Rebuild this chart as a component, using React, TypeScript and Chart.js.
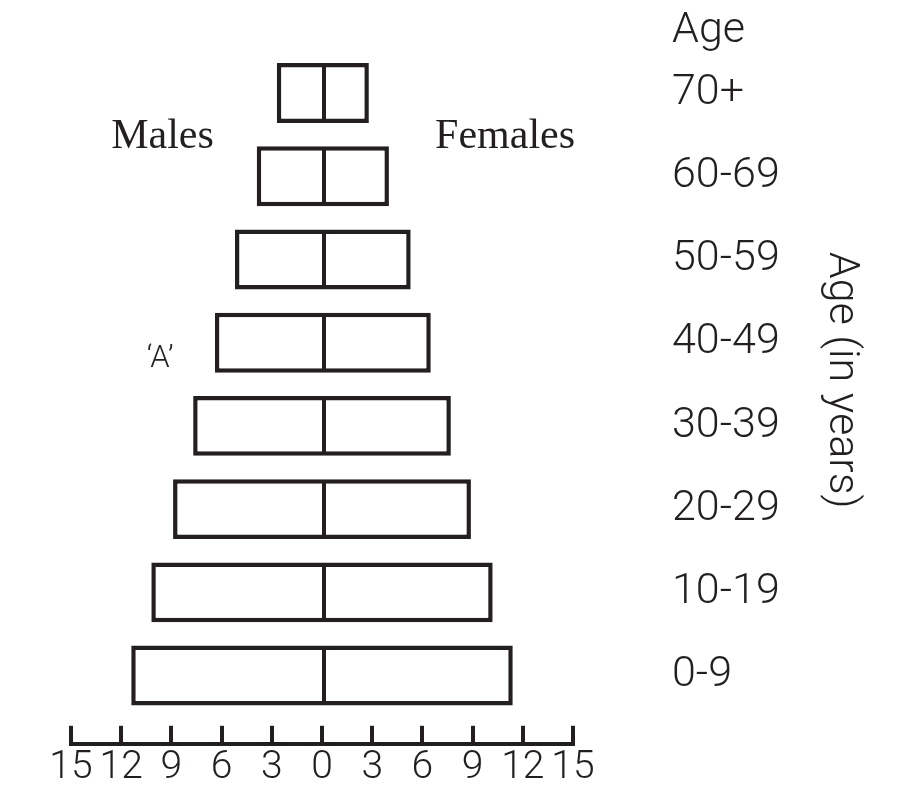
import React, { useEffect, useRef } from 'react';
import { Chart, registerables } from 'chart.js';

Chart.register(...registerables);

// ---- data ----
const ageGroups = ['0-9', '10-19', '20-29', '30-39', '40-49', '50-59', '60-69', '70+'];
const malesPct = [11.4, 10.2, 8.9, 7.7, 6.4, 5.2, 3.9, 2.7];
const femalesPct = [11.4, 10.2, 8.9, 7.7, 6.5, 5.3, 4.0, 2.8];
const xTickValues = [-15, -12, -9, -6, -3, 0, 3, 6, 9, 12, 15];

const INK = '#231f20';
const SANS = 'Roboto, "Open Sans", sans-serif';
const SERIF = '"Liberation Serif", "DejaVu Serif", serif';

type Note = { text: string; x: number; y: number; font: string; align: CanvasTextAlign; baseline: CanvasTextBaseline };
const notes: Note[] = [
  { text: 'Males', x: -9.53, y: 6.34, font: `42px ${SERIF}`, align: 'center', baseline: 'alphabetic' },
  { text: 'Females', x: 10.94, y: 6.34, font: `42px ${SERIF}`, align: 'center', baseline: 'alphabetic' },
  { text: '\u2018A\u2019', x: -9.68, y: 3.8, font: `300 31px ${SANS}`, align: 'center', baseline: 'middle' },
];

const textPlugin = {
  id: 'pyramidText',
  afterDraw(chart: any) {
    const { ctx } = chart;
    const xs = chart.scales.x;
    const ys = chart.scales.y;
    ctx.save();
    ctx.fillStyle = INK;
    for (const n of notes) {
      ctx.font = n.font;
      ctx.textAlign = n.align;
      ctx.textBaseline = n.baseline;
      ctx.fillText(n.text, xs.getPixelForValue(n.x), ys.getPixelForValue(n.y));
    }
    // "Age" header above the age-group labels
    const labelX = ys.left + ys.options.grid.tickLength + ys.options.ticks.padding;
    ctx.font = `300 43px ${SANS}`;
    ctx.textAlign = 'left';
    ctx.textBaseline = 'alphabetic';
    ctx.fillText('Age', labelX, ys.getPixelForValue(7.61));
    // rotated axis title
    ctx.translate(ys.right - 73, ys.getPixelForValue(3.55));
    ctx.rotate(Math.PI / 2);
    ctx.font = `300 43px ${SANS}`;
    ctx.textAlign = 'center';
    ctx.textBaseline = 'alphabetic';
    ctx.fillText('Age (in years)', 0, 0);
    ctx.restore();
  },
};

export default function App() {
  const ref = useRef<HTMLCanvasElement | null>(null);

  useEffect(() => {
    if (!ref.current) return;
    const yFont = { family: SANS, size: 43, weight: '300' as any };
    const xFont = { family: SANS, size: 39, weight: '300' as any };
    const chart = new Chart(ref.current, {
      type: 'bar',
      data: {
        datasets: [
          {
            label: 'Males',
            data: ageGroups.map((_, i) => ({ x: -malesPct[i], y: i })),
            backgroundColor: '#ffffff',
            borderColor: INK,
            borderWidth: { top: 4.5, bottom: 4.5, left: 4.5, right: 0 },
            borderSkipped: false,
            grouped: false,
            categoryPercentage: 1,
            barPercentage: 0.72,
          } as any,
          {
            label: 'Females',
            data: ageGroups.map((_, i) => ({ x: femalesPct[i], y: i })),
            backgroundColor: '#ffffff',
            borderColor: INK,
            borderWidth: { top: 4.5, bottom: 4.5, left: 4, right: 4.5 },
            borderSkipped: false,
            grouped: false,
            categoryPercentage: 1,
            barPercentage: 0.72,
          } as any,
        ],
      },
      options: {
        indexAxis: 'y',
        animation: false,
        responsive: false,
        layout: { padding: { left: 63, top: 43.4, right: 0, bottom: 0 } },
        plugins: { legend: { display: false }, tooltip: { enabled: false } },
        scales: {
          x: {
            type: 'linear',
            min: -15,
            max: 15,
            offset: false,
            afterBuildTicks: (s: any) => {
              s.ticks = xTickValues.map((v) => ({ value: v }));
            },
            afterFit: (s: any) => {
              s.height = 48.2;
            },
            ticks: {
              autoSkip: false,
              maxRotation: 0,
              minRotation: 0,
              padding: 18.6,
              color: INK,
              font: xFont,
              callback: (v: any) => String(Math.abs(Number(v))),
            },
            grid: {
              drawOnChartArea: false,
              drawTicks: true,
              lineWidth: 0,
              tickLength: -18,
              tickWidth: 4,
              tickColor: INK,
            },
            border: { display: true, width: 4, color: INK },
          },
          y: {
            type: 'linear',
            position: 'right',
            offset: false,
            min: -0.82,
            max: 7.5,
            afterBuildTicks: (s: any) => {
              s.ticks = ageGroups.map((_, i) => ({ value: i }));
            },
            afterFit: (s: any) => {
              s.width = 330;
            },
            grid: { display: false, drawTicks: true, tickLength: 94 },
            border: { display: false },
            ticks: {
              autoSkip: false,
              padding: 5,
              color: INK,
              font: yFont,
              callback: (v: any) => ageGroups[Number(v)] ?? '',
            },
          },
        } as any,
      },
      plugins: [textPlugin],
    });
    return () => chart.destroy();
  }, []);

  return (
    <div style={{ width: 895, height: 784 }}>
      <canvas ref={ref} width={895} height={784} style={{ display: 'block' }} />
    </div>
  );
}
